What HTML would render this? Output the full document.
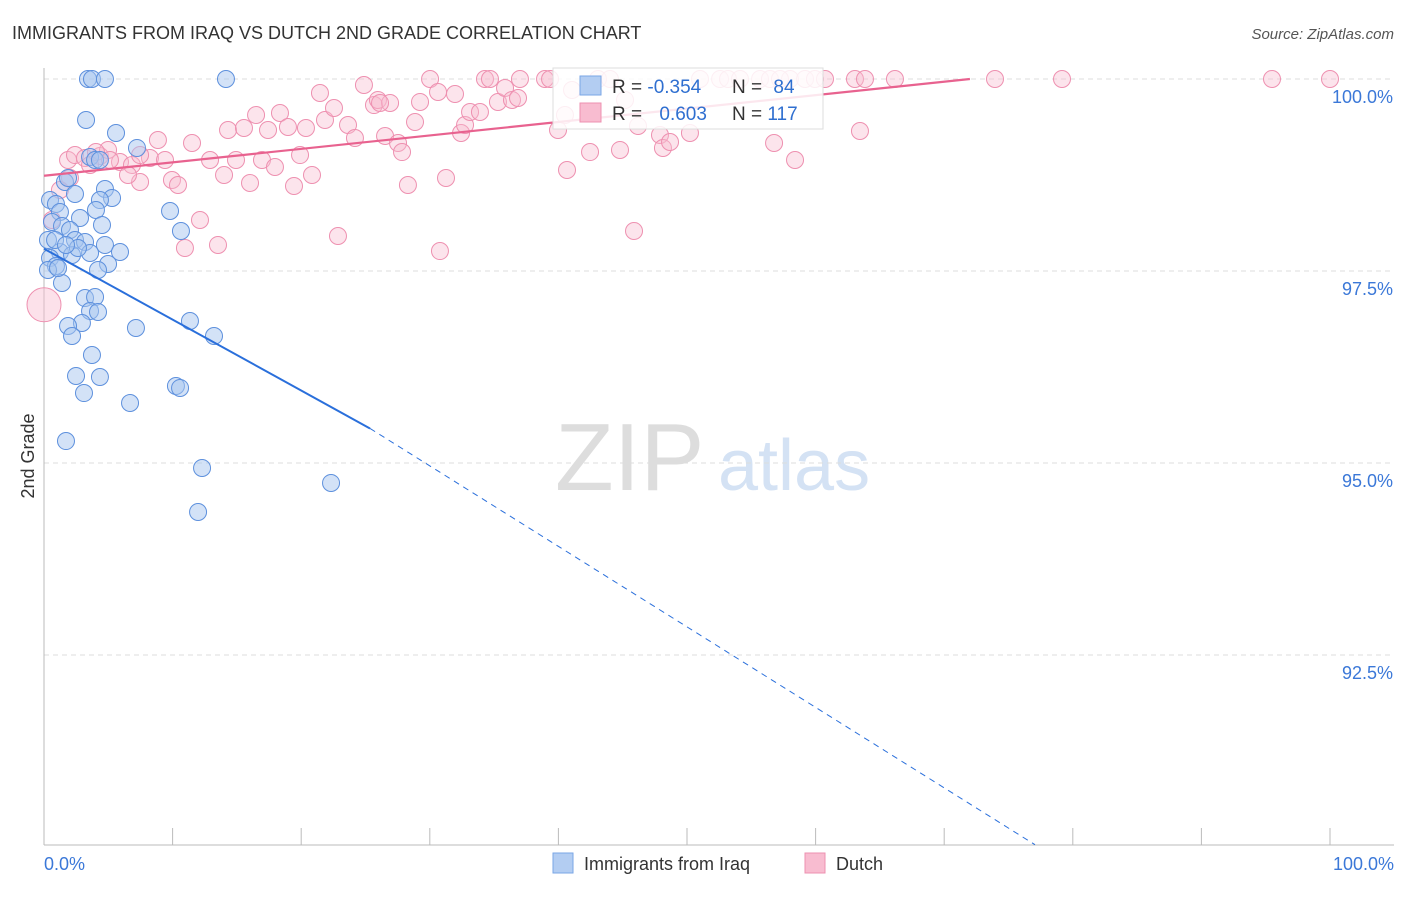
<!DOCTYPE html>
<html><head><meta charset="utf-8"><style>
body{margin:0;background:#fff;font-family:"Liberation Sans",sans-serif;}
svg text{font-family:"Liberation Sans",sans-serif;}
</style></head><body>
<svg id="c" width="1406" height="892" xmlns="http://www.w3.org/2000/svg">
<text x="12" y="39" font-size="18" fill="#333">IMMIGRANTS FROM IRAQ VS DUTCH 2ND GRADE CORRELATION CHART</text>
<text x="1394" y="39" font-size="15" fill="#555" font-style="italic" text-anchor="end">Source: ZipAtlas.com</text>
<text x="34" y="456" font-size="18" fill="#333" transform="rotate(-90 34 456)" text-anchor="middle">2nd Grade</text>
<text x="555" y="490" font-size="96" fill="#ddd" font-family="Liberation Serif">ZIP</text>
<text x="718" y="490" font-size="72" fill="#d4e2f4">atlas</text>
<g id="grid"></g><g id="axes"></g><g id="pts"></g><g id="lines"></g>
<g>
<rect x="553" y="68" width="270" height="61" fill="#fff" fill-opacity="0.85" stroke="#ddd"/>
<rect x="580" y="76" width="21" height="19" fill="#b3cdf2" stroke="#7aa6e6"/>
<rect x="580" y="103" width="21" height="19" fill="#f8bcd0" stroke="#ee90b0"/>
<text x="612" y="93" font-size="19" fill="#333">R = <tspan fill="#2f6fd0">-0.354</tspan></text>
<text x="732" y="93" font-size="19" fill="#333">N = <tspan fill="#2f6fd0" dx="6">84</tspan></text>
<text x="612" y="120" font-size="19" fill="#333">R = <tspan fill="#2f6fd0" dx="12">0.603</tspan></text>
<text x="732" y="120" font-size="19" fill="#333">N = <tspan fill="#2f6fd0">117</tspan></text>
</g>
<g>
<rect x="553" y="853" width="20" height="20" fill="#b3cdf2" stroke="#7aa6e6"/>
<text x="584" y="870" font-size="18" fill="#333">Immigrants from Iraq</text>
<rect x="805" y="853" width="20" height="20" fill="#f8bcd0" stroke="#ee90b0"/>
<text x="836" y="870" font-size="18" fill="#333">Dutch</text>
</g>
</svg>
<script>
const yTicks=[100,97.5,95,92.5];
const yTickLabels=["100.0%","97.5%","95.0%","92.5%"];
const bluePx=[[88,79],[92,79],[105,79],[226,79],[86,120],[116,133],[137,148],[90,157],[95,160],[65,182],[68,178],[105,189],[112,198],[100,200],[75,194],[50,200],[56,204],[60,212],[96,210],[170,211],[80,218],[102,225],[52,222],[62,226],[70,230],[181,231],[48,240],[75,240],[85,242],[105,245],[120,252],[60,252],[90,253],[72,255],[50,258],[108,264],[98,270],[56,266],[62,283],[85,298],[95,297],[90,311],[98,312],[82,323],[68,326],[72,336],[136,328],[190,321],[214,336],[92,355],[76,376],[100,377],[84,393],[130,403],[176,386],[180,388],[66,441],[202,468],[331,483],[198,512],[55,240],[48,270],[58,268],[78,248],[66,245],[100,160]];
const pinkPx=[[68,160],[75,155],[85,158],[100,156],[108,150],[120,162],[132,165],[140,182],[150,158],[158,140],[165,160],[172,180],[178,185],[185,248],[192,143],[200,220],[210,160],[218,245],[224,175],[236,160],[228,130],[244,128],[250,183],[256,115],[262,160],[268,130],[275,167],[280,113],[288,127],[294,186],[300,155],[306,128],[312,175],[320,93],[325,120],[334,108],[338,236],[348,125],[355,138],[364,85],[374,105],[378,100],[385,136],[390,103],[398,143],[402,152],[408,185],[415,122],[420,102],[430,79],[438,92],[440,251],[446,178],[455,94],[461,133],[465,125],[470,112],[480,112],[485,79],[490,79],[498,102],[505,88],[512,100],[518,98],[520,79],[545,79],[550,79],[558,130],[565,115],[567,170],[572,90],[590,152],[598,79],[610,79],[620,150],[625,100],[634,231],[638,126],[660,135],[663,148],[670,142],[690,133],[700,79],[720,79],[728,79],[740,79],[760,79],[770,79],[774,143],[790,79],[795,160],[805,79],[815,79],[825,79],[855,79],[860,131],[865,79],[895,79],[995,79],[1062,79],[1272,79],[1330,79],[70,178],[60,190],[52,220],[90,165],[128,175],[96,152],[110,160],[140,155],[380,103],[780,79]];
const blueX=bluePx.map(p=>+((p[0]-44)/12.86).toFixed(2));
const blueY=bluePx.map(p=>+(100-(p[1]-79)/76.8).toFixed(3));
const pinkX=pinkPx.map(p=>+((p[0]-44)/12.86).toFixed(2));
const pinkY=pinkPx.map(p=>+(100-(p[1]-79)/76.8).toFixed(3));
const blueTrend=[[0,97.79],[25.35,95.45],[77.06,90.03]];
const pinkTrend=[[0,98.74],[72,100]];
const xS=v=>44+v*12.86, yS=v=>79+(100-v)*76.8;
const NS="http://www.w3.org/2000/svg";
function mk(t,a,parent){const e=document.createElementNS(NS,t);for(const k in a)e.setAttribute(k,a[k]);document.getElementById(parent).appendChild(e);return e;}
yTicks.forEach((t,i)=>{
 const g=mk('line',{x1:44,x2:1394,y1:yS(t),y2:yS(t),stroke:'#ddd','stroke-dasharray':'5,4'},'grid');
 
 
 const l=mk('text',{x:1393,y:yS(t)+24,'font-size':18,fill:'#3b78d8','text-anchor':'end'},'grid');l.textContent=yTickLabels[i];
 
 
});
mk('line',{x1:44,x2:44,y1:68,y2:845,stroke:'#bbb'},'axes');
mk('line',{x1:44,x2:1394,y1:845,y2:845,stroke:'#bbb'},'axes');
for(let i=0;i<=10;i++){mk('line',{x1:xS(i*10),x2:xS(i*10),y1:828,y2:845,stroke:'#bbb'},'axes');}
let t=mk('text',{x:44,y:870,'font-size':18,fill:'#3b78d8'},'axes');t.textContent='0.0%';


t=mk('text',{x:1394,y:870,'font-size':18,fill:'#3b78d8','text-anchor':'end'},'axes');t.textContent='100.0%';


mk('circle',{cx:xS(0),cy:yS(97.06),r:17,fill:'#f8bcd0','fill-opacity':0.45,stroke:'#ee90b0'},'pts');
pinkX.forEach((x,i)=>{const c=mk('circle',{cx:xS(x),cy:yS(pinkY[i]),r:8.5,fill:'#f8bcd0','fill-opacity':0.4,stroke:'#ee90b0','stroke-width':1},'pts');
 
 });
blueX.forEach((x,i)=>{const c=mk('circle',{cx:xS(x),cy:yS(blueY[i]),r:8.5,fill:'#a8c6f0','fill-opacity':0.5,stroke:'#5d90dd','stroke-width':1},'pts');
 
 });
let l=mk('line',{x1:xS(blueTrend[0][0]),y1:yS(blueTrend[0][1]),x2:xS(blueTrend[1][0]),y2:yS(blueTrend[1][1]),stroke:'#2a6fdb','stroke-width':2},'lines');


l=mk('line',{x1:xS(blueTrend[1][0]),y1:yS(blueTrend[1][1]),x2:xS(blueTrend[2][0]),y2:yS(blueTrend[2][1]),stroke:'#2a6fdb','stroke-width':1,'stroke-dasharray':'6,5'},'lines');


l=mk('line',{x1:xS(pinkTrend[0][0]),y1:yS(pinkTrend[0][1]),x2:xS(pinkTrend[1][0]),y2:yS(pinkTrend[1][1]),stroke:'#e8628f','stroke-width':2.2},'lines');


</script>
</body></html>
